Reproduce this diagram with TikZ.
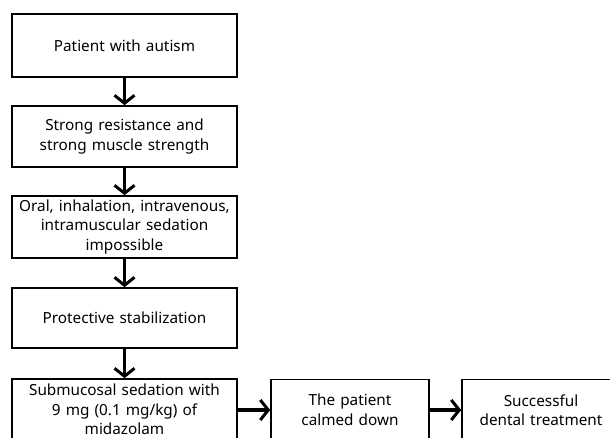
\documentclass[tikz,border=0pt]{standalone}
\usepackage{fontspec}
\setmainfont{Noto Sans}
\usepackage{tikz}
\usetikzlibrary{arrows.meta,positioning}

\tikzset{
  stepbox/.style={draw, line width=1.6pt, fill=white, minimum width=225pt, minimum height=61pt, text width=215pt, align=center, font=\fontsize{15.3}{19.5}\selectfont, inner sep=0pt},
  smallbox/.style={stepbox, minimum width=158pt, text width=150pt},
  flow/.style={-{Straight Barb[length=8pt, width=20pt, line width=3pt]}, line width=3.4pt}
}

\begin{document}
\begin{tikzpicture}[x=1pt, y=-1pt]
        \useasboundingbox (0,0) rectangle (610,438);
        \clip (0,0) rectangle (610,438);

        % Draw main column
        \node[stepbox, minimum height=63pt] (autism) at (124.5,45.5) {Patient with autism};
        \node[stepbox] (resist) at (124.5,136.5) {Strong resistance and\\strong muscle strength};
        \node[stepbox, minimum height=62pt] (imposs) at (124.5,227) {Oral, inhalation, intravenous,\\intramuscular sedation\\impossible};
        \node[stepbox, minimum height=60pt] (stabil) at (124.5,318) {Protective stabilization};
        \node[stepbox, minimum height=61pt] (submuc) at (124.5,409.5) {Submucosal sedation with\\9 mg (0.1 mg/kg) of\\midazolam};

        % Draw bottom row
        \node[smallbox] (calm) at (350,410) {The patient\\calmed down};
        \node[smallbox] (success) at (541,410) {Successful\\dental treatment};

        % Draw arrows
        \draw[flow] (autism) -- (resist);
        \draw[flow] (resist) -- (imposs);
        \draw[flow] (imposs) -- (stabil);
        \draw[flow] (stabil) -- (submuc);
        \draw[flow] (submuc.east |- calm) -- (calm);
        \draw[flow] (calm) -- (success);
    \end{tikzpicture}
\end{document}
